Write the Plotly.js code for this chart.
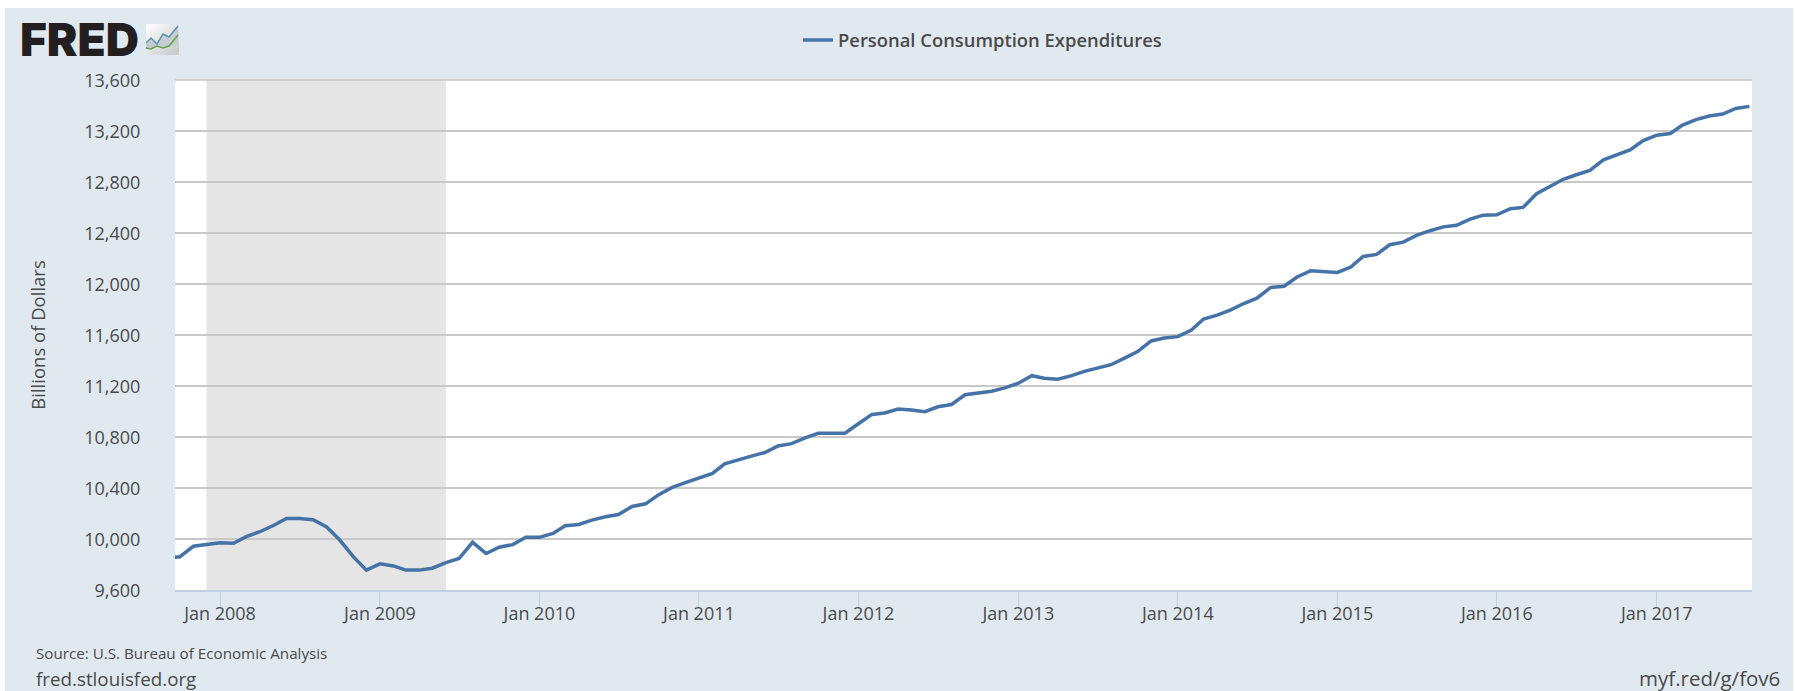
<!DOCTYPE html>
<html>
<head>
<meta charset="utf-8">
<script src="https://cdn.plot.ly/plotly-3.0.1.min.js"></script>
<style>
html,body{margin:0;padding:0;background:#fff;overflow:hidden}
#chart{position:absolute;left:5px;top:8px;width:1788px;height:683px}
</style>
</head>
<body>
<div id="chart"></div>
<script>
const seriesName = "Personal Consumption Expenditures";
const values2007 = [9850, 9860, 9943, 9958]; // Sep-Dec
const values2008 = [9971, 9966, 10018, 10057, 10104, 10161, 10161, 10151, 10094, 9992, 9862, 9756];
const values2009 = [9805, 9789, 9756, 9756, 9771, 9815, 9847, 9974, 9886, 9935, 9956, 10013];
const values2010 = [10013, 10044, 10104, 10114, 10148, 10174, 10192, 10255, 10276, 10348, 10405, 10442];
const values2011 = [10478, 10514, 10590, 10624, 10650, 10678, 10730, 10748, 10793, 10829, 10829, 10829];
const values2012 = [10904, 10977, 10988, 11019, 11011, 10998, 11037, 11055, 11131, 11144, 11159, 11185];
const values2013 = [11222, 11281, 11261, 11253, 11279, 11315, 11339, 11367, 11419, 11470, 11553, 11577];
const values2014 = [11587, 11639, 11725, 11756, 11795, 11847, 11889, 11972, 11982, 12055, 12104, 12099];
const values2015 = [12091, 12133, 12216, 12232, 12308, 12328, 12381, 12418, 12448, 12461, 12509, 12540];
const values2016 = [12543, 12590, 12601, 12708, 12760, 12821, 12857, 12891, 12974, 13013, 13052, 13125];
const values2017 = [13167, 13180, 13247, 13289, 13317, 13333, 13377, 13393]; // Jan-Aug
const yTicks = [9600, 10000, 10400, 10800, 11200, 11600, 12000, 12400, 12800, 13200, 13600];
const xTickYears = [2008, 2009, 2010, 2011, 2012, 2013, 2014, 2015, 2016, 2017];
const recessionStart = "2007-12-01";
const recessionEnd = "2009-06-01";
const xRange = ["2007-09-20", "2017-08-07"];

const allValues = [].concat(values2007, values2008, values2009, values2010, values2011,
  values2012, values2013, values2014, values2015, values2016, values2017);
const dates = allValues.map((_, i) => {
  const m = 8 + i; // months since Jan 2007
  const y = 2007 + Math.floor(m / 12);
  return y + "-" + String(m % 12 + 1).padStart(2, "0") + "-01";
});

const FONT = '"Open Sans", sans-serif';
const TXT = "#4a4a4a";
const logoSvg = `<svg xmlns="http://www.w3.org/2000/svg" width="33" height="31" viewBox="0 0 33 31">
<defs><linearGradient id="g" x1="0" y1="0" x2="1" y2="1"><stop offset="0" stop-color="#ffffff"/><stop offset="1" stop-color="#c4c8c8"/></linearGradient></defs>
<rect width="33" height="31" rx="2" fill="url(#g)"/>
<path d="M0 19 L5 14 L11 20 L17 10 L23 13 L32 2 L32 22 L23 22 L17 24 L11 22 L5 25 L0 24Z" fill="#c5cdd2"/>
<path d="M0 19 L5 14 L11 20 L17 10 L23 13 L32 2" fill="none" stroke="#5f93b5" stroke-width="1.5"/>
<path d="M0 24 L5 25 L11 22 L17 24 L23 22 L32 11" fill="none" stroke="#6ca04c" stroke-width="1.5"/>
</svg>`;

const trace = {
  type: "scatter", mode: "lines", name: seriesName,
  x: dates, y: allValues,
  line: {color: "#4572a7", width: 3.5, shape: "linear"},
  hoverinfo: "x+y"
};

const layout = {
  width: 1788, height: 683,
  margin: {l: 170, r: 41, t: 72, b: 101, pad: 0},
  paper_bgcolor: "#e1e9f0", plot_bgcolor: "#ffffff",
  font: {family: FONT, color: TXT, size: 18},
  showlegend: true,
  legend: {
    x: (793 - 170) / 1577, xanchor: "left",
    y: 1 + (72 - 32) / 510, yanchor: "middle",
    bgcolor: "rgba(0,0,0,0)", borderwidth: 0,
    font: {family: FONT, size: 18.4, color: TXT, weight: 600},
    itemwidth: 30
  },
  xaxis: {
    type: "date", range: xRange,
    tickmode: "array",
    tickvals: xTickYears.map(y => y + "-01-01"),
    ticktext: xTickYears.map(y => "Jan " + y),
    tickangle: 0,
    showgrid: false, showline: true, linecolor: "#c0d0e0", linewidth: 1.5,
    ticks: "outside", ticklen: 15, tickwidth: 1, tickcolor: "#c0d0e0",
    ticklabelstandoff: -8,
    tickfont: {family: FONT, size: 18, color: TXT},
    zeroline: false
  },
  yaxis: {
    range: [9600, 13600], tickmode: "array", tickvals: yTicks,
    ticktext: yTicks.map(v => v.toLocaleString("en-US")),
    showgrid: true, gridcolor: "#c8c8c8", gridwidth: 1.5, zeroline: false, showline: false,
    ticks: "outside", ticklen: 30, tickcolor: "rgba(0,0,0,0)",
    ticklabelshift: 1,
    tickfont: {family: FONT, size: 18, color: TXT},
    title: {text: "Billions of Dollars", font: {family: FONT, size: 18.5, color: TXT}, standoff: 33}
  },
  shapes: [{
    type: "rect", xref: "x", yref: "paper", x0: recessionStart, x1: recessionEnd, y0: 0, y1: 1,
    fillcolor: "rgba(0,0,0,0.1)", line: {width: 0}, layer: "below"
  }, {
    type: "line", xref: "paper", yref: "paper", x0: 0, x1: 1, y0: 1, y1: 1,
    line: {color: "#c8c8c8", width: 1.5}, layer: "above"
  }],
  images: [{
    source: "data:image/svg+xml;base64," + btoa(logoSvg),
    xref: "paper", yref: "paper", xanchor: "left", yanchor: "top", sizing: "stretch",
    x: (141 - 170) / 1577, y: 1 + (72 - 16) / 510, sizex: 33 / 1577, sizey: 31 / 510
  }],
  annotations: [
    {text: "FRED", xref: "paper", yref: "paper", xanchor: "left", yanchor: "middle", showarrow: false,
     x: (14 - 170) / 1577, y: 1 + (72 - 31) / 510, font: {family: 'Inter, "Liberation Sans", sans-serif', size: 46, weight: 900, color: "#231f20"}, borderpad: 0},
    {text: "Source: U.S. Bureau of Economic Analysis", xref: "paper", yref: "paper", xanchor: "left", yanchor: "middle", showarrow: false,
     x: (30 - 170) / 1577, y: -(645 - 582) / 510, font: {family: FONT, size: 15.2, color: TXT}, borderpad: 0},
    {text: "fred.stlouisfed.org", xref: "paper", yref: "paper", xanchor: "left", yanchor: "middle", showarrow: false,
     x: (30 - 170) / 1577, y: -(671 - 582) / 510, font: {family: FONT, size: 18.8, color: TXT}, borderpad: 0},
    {text: "myf.red/g/fov6", xref: "paper", yref: "paper", xanchor: "right", yanchor: "middle", showarrow: false,
     x: (1776 - 170) / 1577, y: -(670 - 582) / 510, font: {family: FONT, size: 20.5, color: TXT}, borderpad: 0}
  ]
};

Plotly.newPlot("chart", [trace], layout, {displayModeBar: false, responsive: false});
</script>
</body>
</html>
